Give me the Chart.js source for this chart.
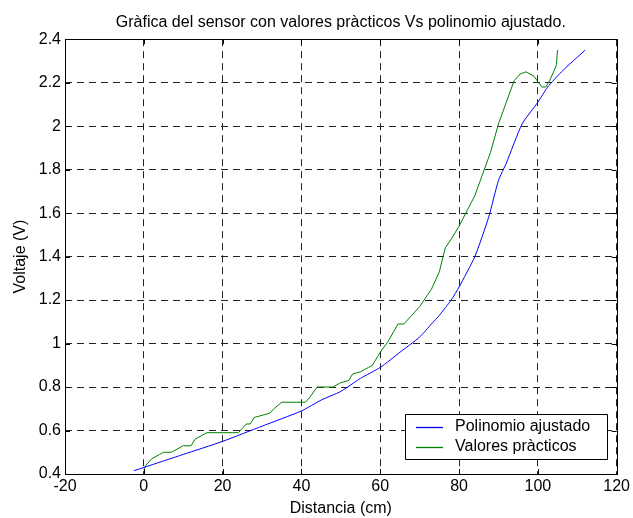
<!DOCTYPE html>
<html>
<head>
<meta charset="utf-8">
<script src="https://cdn.jsdelivr.net/npm/chart.js@4/dist/chart.umd.min.js"></script>
<style>
  body { margin: 0; background: #fff; }
</style>
</head>
<body>
<canvas id="grafico" width="633" height="518"></canvas>
<script>
const distPolinomio = [-2.5, 0, 10, 20, 30, 40, 45, 50, 55, 60, 65, 70, 73, 75, 78, 80, 84, 87.5, 90, 92, 96, 100, 102.5, 106, 112];
const voltPolinomio = [0.415, 0.43, 0.49, 0.55, 0.62, 0.69, 0.74, 0.78, 0.84, 0.89, 0.96, 1.03, 1.09, 1.13, 1.20, 1.26, 1.40, 1.58, 1.75, 1.83, 2.01, 2.11, 2.18, 2.25, 2.35];

const distPracticos = [0, 0.5, 2, 4, 5, 7, 8, 10, 12, 13, 15, 16, 24, 25, 26, 27, 28, 30, 32, 33, 35, 41, 42, 44, 48, 50, 52, 53, 55, 57, 58, 60, 62, 64.5, 66, 68, 70, 73, 75, 76.5, 78, 80, 82, 84, 86, 88, 90, 92, 94, 95.5, 97, 99, 101, 102, 103, 104, 104.7, 105];
const voltPracticos = [0.42, 0.44, 0.47, 0.49, 0.50, 0.50, 0.51, 0.53, 0.53, 0.56, 0.58, 0.59, 0.59, 0.61, 0.63, 0.63, 0.66, 0.67, 0.68, 0.70, 0.73, 0.73, 0.75, 0.80, 0.80, 0.82, 0.83, 0.86, 0.87, 0.89, 0.90, 0.96, 1.01, 1.09, 1.09, 1.13, 1.17, 1.25, 1.33, 1.44, 1.48, 1.54, 1.61, 1.68, 1.78, 1.88, 2.01, 2.11, 2.21, 2.24, 2.25, 2.23, 2.18, 2.18, 2.21, 2.25, 2.28, 2.35];

const xTicks = [-20, 0, 20, 40, 60, 80, 100, 120];
const yTicks = [0.4, 0.6, 0.8, 1, 1.2, 1.4, 1.6, 1.8, 2, 2.2, 2.4];

const colorPolinomio = 'rgb(0, 0, 255)';
const colorPracticos = 'rgb(0, 128, 0)';
const fuente = "'Liberation Sans', Arial, sans-serif";

function pares(xs, ys) {
    return xs.map((x, i) => ({x: x, y: ys[i]}));
}

// caja, marcas hacia adentro y leyenda al estilo matlab
const estiloMatlab = {
    id: 'estiloMatlab',
    afterDraw(chart) {
        const ctx = chart.ctx;
        const a = chart.chartArea;
        const sx = chart.scales.x;
        const sy = chart.scales.y;
        ctx.save();
        ctx.strokeStyle = '#000';
        ctx.lineWidth = 1;
        ctx.setLineDash([]);
        ctx.strokeRect(Math.round(a.left) + 0.5, Math.round(a.top) + 0.5, Math.round(a.right - a.left), Math.round(a.bottom - a.top));
        ctx.beginPath();
        xTicks.forEach(v => {
            const px = Math.round(sx.getPixelForValue(v)) + 0.5;
            ctx.moveTo(px, a.bottom); ctx.lineTo(px, a.bottom - 5);
            ctx.moveTo(px, a.top); ctx.lineTo(px, a.top + 5);
        });
        yTicks.forEach(v => {
            const py = Math.round(sy.getPixelForValue(v)) + 0.5;
            ctx.moveTo(a.left, py); ctx.lineTo(a.left + 5, py);
            ctx.moveTo(a.right, py); ctx.lineTo(a.right - 5, py);
        });
        ctx.stroke();

        // leyenda
        const lx = 405, ly = 414, lw = 202, lh = 45;
        ctx.fillStyle = '#fff';
        ctx.fillRect(lx, ly, lw, lh);
        ctx.beginPath();
        ctx.rect(lx + 0.5, ly + 0.5, lw, lh);
        ctx.stroke();
        ctx.font = '16px ' + fuente;
        ctx.textBaseline = 'middle';
        const series = [
            {texto: chart.data.datasets[0].label, color: colorPolinomio},
            {texto: chart.data.datasets[1].label, color: colorPracticos}
        ];
        series.forEach((s, i) => {
            const y = ly + 13.5 + i * 20;
            ctx.beginPath();
            ctx.strokeStyle = s.color;
            ctx.lineWidth = 1.3;
            ctx.moveTo(lx + 11, y);
            ctx.lineTo(lx + 38, y);
            ctx.stroke();
            ctx.fillStyle = '#000';
            ctx.fillText(s.texto, lx + 50, y - 0.5);
        });
        ctx.restore();
    }
};

const grafico = document.getElementById('grafico').getContext('2d');

new Chart(grafico, {
    type: 'line',
    data: {
        datasets: [{
            label: 'Polinomio ajustado',
            data: pares(distPolinomio, voltPolinomio),
            borderColor: colorPolinomio,
            borderWidth: 1,
            pointRadius: 0,
            tension: 0.2,
            fill: false
        },
        {
            label: 'Valores pràcticos',
            data: pares(distPracticos, voltPracticos),
            borderColor: colorPracticos,
            borderWidth: 1,
            pointRadius: 0,
            tension: 0,
            fill: false
        }]
    },
    options: {
        responsive: false,
        animation: false,
        layout: { padding: { left: 0, right: 0, top: 0, bottom: 0 } },
        plugins: {
            legend: { display: false },
            tooltip: { enabled: false },
            title: {
                display: true,
                fullSize: false,
                text: 'Gràfica del sensor con valores pràcticos Vs polinomio ajustado.',
                color: '#000',
                font: { family: fuente, size: 16, weight: 'normal' },
                padding: { top: 13, bottom: 7 }
            }
        },
        scales: {
            x: {
                type: 'linear',
                min: -20,
                max: 120,
                afterFit: s => { s.height = 44; },
                afterBuildTicks: s => { s.ticks = xTicks.map(v => ({value: v})); },
                ticks: {
                    color: '#000',
                    font: { family: fuente, size: 16 },
                    padding: 3,
                    maxRotation: 0,
                    callback: v => String(v)
                },
                grid: { color: '#222', drawTicks: false, lineWidth: 1 },
                border: { display: false, dash: [7, 5] },
                title: {
                    display: true,
                    text: 'Distancia (cm)',
                    color: '#000',
                    font: { family: fuente, size: 16 },
                    padding: { top: 2, bottom: 0 }
                }
            },
            y: {
                type: 'linear',
                min: 0.4,
                max: 2.4,
                afterFit: s => { s.width = 65; },
                afterBuildTicks: s => { s.ticks = yTicks.map(v => ({value: v})); },
                ticks: {
                    color: '#000',
                    font: { family: fuente, size: 16 },
                    padding: 4,
                    callback: v => String(Math.round(v * 10) / 10)
                },
                grid: { color: '#222', drawTicks: false, lineWidth: 1 },
                border: { display: false, dash: [7, 5] },
                title: {
                    display: true,
                    text: 'Voltaje (V)',
                    color: '#000',
                    font: { family: fuente, size: 16 },
                    padding: { top: 11, bottom: 0 }
                }
            }
        }
    },
    plugins: [estiloMatlab]
});
</script>
</body>
</html>
